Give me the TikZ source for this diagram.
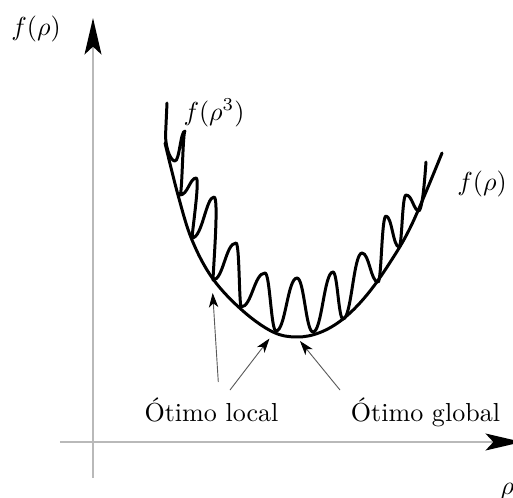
\documentclass[tikz,border=0pt]{standalone}
\usepackage{fontspec}
\usetikzlibrary{arrows.meta}
\begin{document}
\begin{tikzpicture}[x=0.384pt,y=-0.384pt,
  axis/.style={draw=gray!55, line width=0.7pt, -{Stealth[length=14pt,width=6.5pt,inset=3pt,color=black]}},
  ptr/.style={draw=black!65, line width=0.35pt, -{Stealth[length=5.5pt,width=3.6pt,inset=1.5pt,color=black]}},
  curve/.style={line width=1.15pt, line join=round, line cap=round},
  lbl/.style={inner sep=0pt}]
\useasboundingbox (0,0) rectangle (513,498);
% axes
\coordinate (yb) at (93,478);
\coordinate (yt) at (93,18);
\coordinate (xl) at (60,442);
\coordinate (xr) at (522,442);
\draw[axis] (yb) -- (yt);
\draw[axis] (xl) -- (xr);
% main curve
\draw[curve] plot[smooth, tension=0.6] coordinates {(165,143) (178,195) (192,240) (213,279) (243,311) (273,332) (297,337) (320,332.5) (343,319) (366,296) (389,264) (412,224) (442,153)};
% wiggly curve
\draw[curve] (167,103) -- (165.5,136)
  .. controls (166,150) and (171,161) .. (175,161)
  .. controls (179.5,161) and (180.5,131) .. (185,131)
  .. controls (182.75,131) and (182.25,195) .. (180,195)
  .. controls (187.65,195) and (190,178) .. (196,178)
  .. controls (200,178) and (193,225) .. (192,238)
  .. controls (202.35,238) and (206,197) .. (214,197)
  .. controls (219,197) and (213.5,265) .. (213,280)
  .. controls (223.35,280) and (225.65,243) .. (236,243)
  .. controls (239.5,243) and (239,300) .. (241,307)
  .. controls (251.8,307) and (254.2,273) .. (265,273)
  .. controls (269.95,273) and (271.05,331) .. (276,331)
  .. controls (285.45,331) and (287.55,278) .. (297,278)
  .. controls (304.2,278) and (305.8,332) .. (313,332)
  .. controls (322,332) and (324,272) .. (333,272)
  .. controls (337.5,272) and (338.5,319) .. (343,319)
  .. controls (351.55,319) and (353.45,253) .. (362,253)
  .. controls (369.2,253) and (370.8,282) .. (378,282)
  .. controls (381.6,282) and (381.5,216) .. (386,216)
  .. controls (391.85,216) and (393.15,247) .. (399,247)
  .. controls (402.15,247) and (402,195) .. (406,195)
  .. controls (412.3,195) and (413.7,211) .. (419,211)
  .. controls (422,208) and (424,190) .. (426,162);
% labels
\node[lbl] (fy) at (36,29) {$f(\rho)$};
\node[lbl] (fr) at (482,184) {$f(\rho)$};
\node[lbl] (f3) at (214,113) {$f(\rho^3)$};
\node[lbl, anchor=base west] (rho) at (500,494) {$\rho$};
\node[lbl, anchor=base] (loc) at (211.5,421) {Ótimo local};
\node[lbl, anchor=base] (glob) at (425.5,421) {Ótimo global};
% pointers
\coordinate (s1) at (218.3,382);
\coordinate (t1) at (212.7,293);
\coordinate (s2) at (230,390);
\coordinate (t2) at (269.5,338.5);
\coordinate (s3) at (340,390);
\coordinate (t3) at (300,341);
\draw[ptr] (s1) -- (t1);
\draw[ptr] (s2) -- (t2);
\draw[ptr] (s3) -- (t3);
\end{tikzpicture}
\end{document}
